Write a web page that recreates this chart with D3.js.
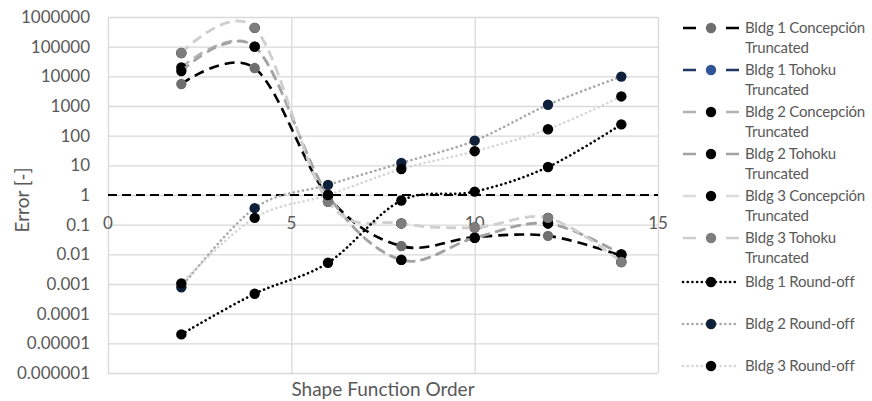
<!DOCTYPE html>
<html>
<head>
<meta charset="utf-8">
<script src="https://cdn.jsdelivr.net/npm/d3@7"></script>
<style>
  html, body { margin: 0; padding: 0; background: #fff; }
  svg { display: block; font-family: Lato, "Open Sans", sans-serif; }
</style>
</head>
<body>
<script>
// ! DATA ! //
const orders = [2, 4, 6, 8, 10, 12, 14];
const xTicks = [0, 5, 10, 15];
const yTicks = [1e-6, 1e-5, 1e-4, 1e-3, 1e-2, 1e-1, 1, 10, 100, 1000, 10000, 100000, 1000000];
const yTickLabels = ["0.000001", "0.00001", "0.0001", "0.001", "0.01", "0.1", "1", "10", "100", "1000", "10000", "100000", "1000000"];

const bldg1ConcTrunc = [5500, 19000, 0.9, 0.019, 0.038, 0.042, 0.009];
const bldg1TohokuTrunc = [null, null, null, null, null, null, null];
const bldg2ConcTrunc = [20000, 100000, 1, 0.0065, 0.036, 0.11, 0.01];
const bldg2TohokuTrunc = [15000, 100000, 1, 0.0065, 0.036, 0.11, 0.01];
const bldg3ConcTrunc = [61000, 430000, 0.6, 0.11, 0.08, 0.17, 0.0055];
const bldg3TohokuTrunc = [61000, 430000, 0.6, 0.11, 0.08, 0.17, 0.0055];
const bldg1RoundOff = [0.00002, 0.00047, 0.0052, 0.65, 1.3, 8.8, 240];
const bldg2RoundOff = [0.00078, 0.36, 2.2, 12, 68, 1100, 9800];
const bldg3RoundOff = [0.00105, 0.17, 1, 7.5, 30, 165, 2100];

const seriesNames = [
    ["Bldg 1 Concepción", "Truncated"],
    ["Bldg 1 Tohoku", "Truncated"],
    ["Bldg 2 Concepción", "Truncated"],
    ["Bldg 2 Tohoku", "Truncated"],
    ["Bldg 3 Concepción", "Truncated"],
    ["Bldg 3 Tohoku", "Truncated"],
    ["Bldg 1 Round-off"],
    ["Bldg 2 Round-off"],
    ["Bldg 3 Round-off"],
];
const seriesValues = [bldg1ConcTrunc, bldg1TohokuTrunc, bldg2ConcTrunc, bldg2TohokuTrunc, bldg3ConcTrunc, bldg3TohokuTrunc, bldg1RoundOff, bldg2RoundOff, bldg3RoundOff];

// ^ STYLES ^ //
const lineColors = ["#000000", "#1f3864", "#b4b4b4", "#a2a2a2", "#dadada", "#cfcfcf", "#000000", "#a8a8a8", "#d6d6d6"];
const markerColors = ["#6e6e6e", "#2f5597", "#000000", "#000000", "#000000", "#7d7d7d", "#000000", "#0e203a", "#000000"];
const isDotted = [false, false, false, false, false, false, true, true, true];
const legendRows = [28, 70, 112, 154, 196, 238, 282, 324, 366];

const textColor = "#595959";
const gridColor = "#d9d9d9";

const width = 872;
const height = 401;

const xScale = d3.scaleLinear().domain([0, 15]).range([108, 658]);
const yScale = d3.scaleLog().domain([1e-6, 1e6]).range([373, 17]);

const svg = d3.select("body").append("svg").attr("width", width).attr("height", height);

// ^ GRID ^ //
svg.append("g")
    .attr("transform", `translate(${xScale.range()[0]},0)`)
    .call(d3.axisLeft(yScale).tickValues(yTicks).tickSize(-(xScale.range()[1] - xScale.range()[0])).tickFormat(""))
    .call((g) => g.select(".domain").remove())
    .call((g) => g.selectAll(".tick line").attr("stroke", gridColor).attr("stroke-width", 1.3));

svg.append("g")
    .attr("transform", `translate(0,${yScale.range()[0]})`)
    .call(d3.axisBottom(xScale).tickValues(xTicks).tickSize(-(yScale.range()[0] - yScale.range()[1])).tickFormat(""))
    .call((g) => g.select(".domain").remove())
    .call((g) => g.selectAll(".tick line").attr("stroke", gridColor).attr("stroke-width", 1.3));

// ^ Y TICK LABELS ^ //
svg.append("g")
    .selectAll("text")
    .data(yTicks)
    .enter()
    .append("text")
    .attr("x", 90)
    .attr("y", (d) => yScale(d))
    .attr("dy", "0.36em")
    .attr("text-anchor", "end")
    .attr("fill", textColor)
    .attr("font-size", 17)
    .text((d, i) => yTickLabels[i]);

// ^ X AXIS (crosses at 1) ^ //
svg.append("line")
    .attr("x1", xScale.range()[0])
    .attr("x2", xScale.range()[1])
    .attr("y1", yScale(1))
    .attr("y2", yScale(1))
    .attr("stroke", "#000")
    .attr("stroke-width", 2)
    .attr("stroke-dasharray", "9,5");

svg.append("g")
    .selectAll("text")
    .data(xTicks)
    .enter()
    .append("text")
    .attr("x", (d) => xScale(d))
    .attr("y", yScale(1) + 34)
    .attr("text-anchor", "middle")
    .attr("fill", textColor)
    .attr("font-size", 17)
    .text((d) => d);

// ^ AXIS TITLES ^ //
svg.append("text")
    .attr("x", 383)
    .attr("y", 396)
    .attr("text-anchor", "middle")
    .attr("fill", textColor)
    .attr("font-size", 19)
    .text("Shape Function Order");

svg.append("text")
    .attr("transform", "translate(29,200) rotate(-90)")
    .attr("text-anchor", "middle")
    .attr("fill", textColor)
    .attr("font-size", 19)
    .text("Error [-]");

// ! SERIES ! //
const line = d3
    .line()
    .defined((d) => d.v !== null)
    .x((d) => xScale(d.x))
    .y((d) => yScale(d.v))
    .curve(d3.curveCardinal.tension(0));

seriesValues.forEach((values, i) => {
    const points = orders.map((x, j) => ({ x: x, v: values[j] }));
    const g = svg.append("g").attr("class", "series");
    g.append("path")
        .attr("d", line(points))
        .attr("fill", "none")
        .attr("stroke", lineColors[i])
        .attr("stroke-width", 2.6)
        .attr("stroke-linecap", isDotted[i] ? "round" : "butt")
        .attr("stroke-dasharray", isDotted[i] ? "0.1,4.6" : "10,6");
    g.selectAll("circle")
        .data(points.filter((d) => d.v !== null))
        .enter()
        .append("circle")
        .attr("cx", (d) => xScale(d.x))
        .attr("cy", (d) => yScale(d.v))
        .attr("r", 5.2)
        .attr("fill", markerColors[i]);
});

// ! LEGEND ! //
const legend = svg.append("g").attr("class", "legend");
seriesNames.forEach((names, i) => {
    const row = legend.append("g").attr("transform", `translate(0,${legendRows[i]})`);
    row.append("line")
        .attr("x1", 683)
        .attr("x2", 739)
        .attr("stroke", lineColors[i])
        .attr("stroke-width", 2.6)
        .attr("stroke-linecap", isDotted[i] ? "round" : "butt")
        .attr("stroke-dasharray", isDotted[i] ? "0.1,4.6" : "13,30,13");
    row.append("circle").attr("cx", 711).attr("cy", 0).attr("r", 5.2).attr("fill", markerColors[i]);
    names.forEach((t, k) => {
        row.append("text")
            .attr("x", 745)
            .attr("y", k * 20)
            .attr("dy", "0.36em")
            .attr("fill", textColor)
            .attr("font-size", 15)
            .attr("letter-spacing", -0.2)
            .text(t);
    });
});
</script>
</body>
</html>
